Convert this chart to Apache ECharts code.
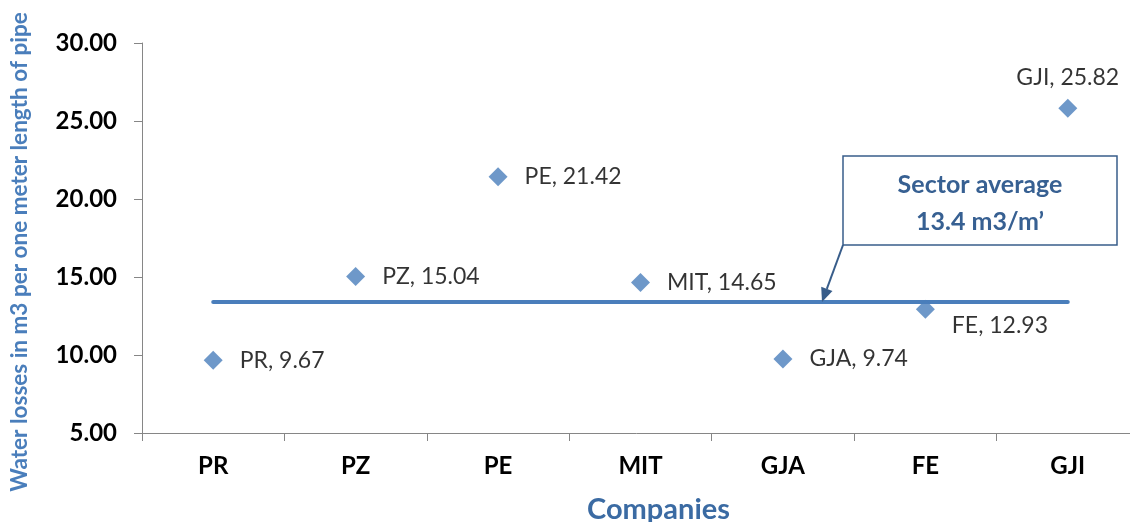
<!DOCTYPE html>
<html><head><meta charset="utf-8">
<script src="https://cdn.jsdelivr.net/npm/echarts@6/dist/echarts.min.js"></script>
<style>html,body{margin:0;padding:0;background:#fff}#c{width:1130px;height:522px}</style>
</head><body><div id="c"></div>
<script>
var companies = ['PR','PZ','PE','MIT','GJA','FE','GJI'];
var losses = [9.67, 15.04, 21.42, 14.65, 9.74, 12.93, 25.82];
var sectorAverage = 13.4;
var yTicks = {min: 5, max: 30, interval: 5};
var calloutLines = ['Sector average', '13.4 m3/m\u2019'];

var FONT = 'Lato';
var chart = echarts.init(document.getElementById('c'), null, {renderer: 'canvas'});

var labelCfg = {
  FE: {position: 'right', offset: [0, 16]},
  GJI: {position: 'top', distance: 10}
};

var pointData = companies.map(function (c, i) {
  var d = {value: losses[i], name: c};
  if (labelCfg[c]) d.label = labelCfg[c];
  return d;
});

var option = {
  backgroundColor: '#ffffff',
  animation: false,
  grid: {left: 142, top: 43, width: 997, height: 390, containLabel: false, outerBoundsMode: 'none'},
  xAxis: {
    type: 'category',
    data: companies,
    boundaryGap: true,
    axisLine: {lineStyle: {color: '#868686', width: 1}},
    axisTick: {show: true, length: 8, lineStyle: {color: '#868686'}},
    axisLabel: {color: '#000', fontFamily: FONT, fontWeight: 'bold', fontSize: 24, margin: 21},
    name: 'Companies',
    nameLocation: 'middle',
    nameGap: 62,
    nameTextStyle: {color: '#3b6ba3', fontFamily: FONT, fontWeight: 'bold', fontSize: 29, padding: [0, 0, 0, 36]},
    splitLine: {show: false}
  },
  yAxis: {
    type: 'value',
    min: yTicks.min, max: yTicks.max, interval: yTicks.interval,
    axisLine: {show: true, lineStyle: {color: '#868686', width: 1}},
    axisTick: {show: true, length: 8, lineStyle: {color: '#868686'}},
    axisLabel: {color: '#000', fontFamily: FONT, fontWeight: 'bold', fontSize: 24, margin: 25,
      formatter: function (v) { return v.toFixed(2); }},
    splitLine: {show: false},
    name: 'Water losses in m3 per one meter length of pipe',
    nameLocation: 'middle',
    nameRotate: 90,
    nameGap: 111,
    nameTextStyle: {color: '#4a7ebb', fontFamily: FONT, fontWeight: 'bold', fontSize: 22.5, padding: [0, 28, 0, 0]}
  },
  series: [
    {
      type: 'line',
      data: companies.map(function () { return sectorAverage; }),
      symbol: 'none',
      lineStyle: {color: '#4a7ebb', width: 4, cap: 'round'},
      silent: true,
      z: 1
    },
    {
      type: 'scatter',
      data: pointData,
      symbol: 'diamond',
      symbolSize: [19, 19],
      itemStyle: {color: '#4a7ebb'},
      label: {
        show: true, position: 'right', distance: 17,
        color: '#000', fontFamily: FONT, fontSize: 23,
        formatter: function (p) { return p.name + ', ' + p.value.toFixed(2); }
      },
      z: 3
    }
  ]
};
chart.setOption(option);

// callout box annotation pointing at the average line
var avgY = chart.convertToPixel({yAxisIndex: 0}, sectorAverage);
var box = {x: 843, y: 156, w: 274, h: 89};
var tip = [822, avgY];
var base = [box.x, box.y + box.h];
var ang = Math.atan2(tip[1] - base[1], tip[0] - base[0]);
var ah = 14, aw = 6;
var bx = tip[0] - ah * Math.cos(ang), by = tip[1] - ah * Math.sin(ang);
var px = -Math.sin(ang) * aw, py = Math.cos(ang) * aw;
chart.setOption({
  graphic: [
    {type: 'rect', shape: {x: box.x, y: box.y, width: box.w, height: box.h},
     style: {fill: '#fff', stroke: '#385d8a', lineWidth: 1.5}, z: 10},
    {type: 'line', shape: {x1: base[0], y1: base[1], x2: bx, y2: by},
     style: {stroke: '#385d8a', lineWidth: 2}, z: 10},
    {type: 'polygon', shape: {points: [tip, [bx + px, by + py], [bx - px, by - py]]},
     style: {fill: '#385d8a'}, z: 10},
    {type: 'text', x: box.x + box.w / 2, y: 185, z: 11,
     style: {text: calloutLines[0], fill: '#376092', font: 'bold 25px ' + FONT, align: 'center', verticalAlign: 'middle'}},
    {type: 'text', x: box.x + box.w / 2, y: 222, z: 11,
     style: {text: calloutLines[1], fill: '#376092', font: 'bold 25px ' + FONT, align: 'center', verticalAlign: 'middle'}}
  ]
});
</script>
</body></html>
